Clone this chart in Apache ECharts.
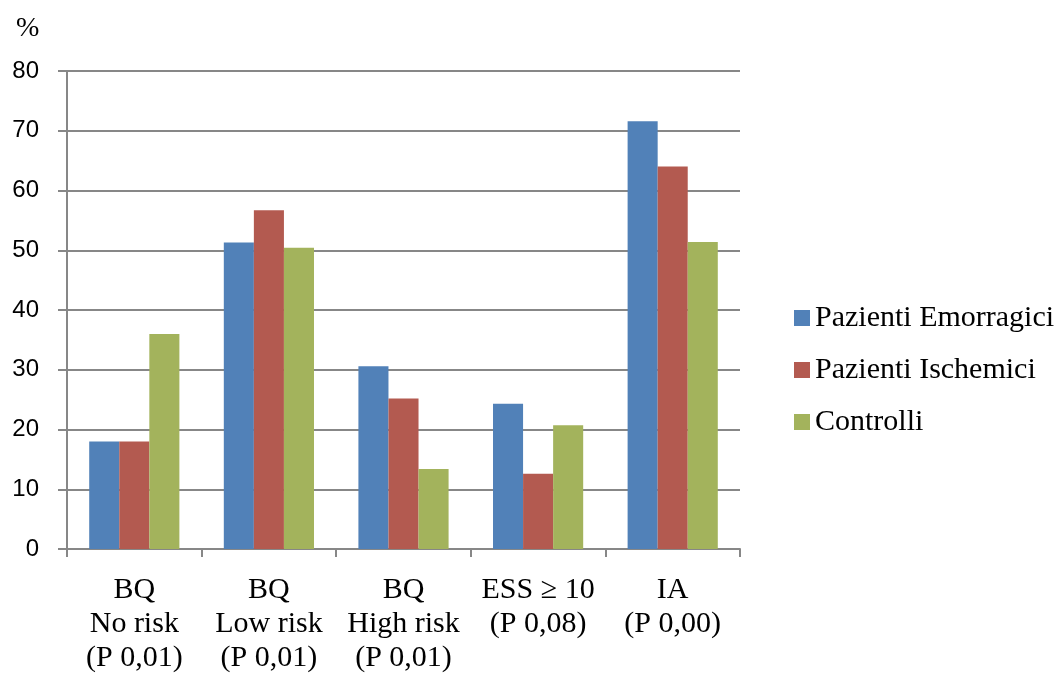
<!DOCTYPE html>
<html>
<head>
<meta charset="utf-8">
<script src="https://cdn.jsdelivr.net/npm/echarts@6/dist/echarts.min.js"></script>
<style>
  html, body { margin: 0; padding: 0; background: #fff; overflow: hidden; }
  #chart { width: 1058px; height: 675px; }
</style>
</head>
<body>
<div id="chart"></div>
<script>
// Categories (multi-line axis labels)
const categories = [
  'BQ\nNo risk\n(P 0,01)',
  'BQ\nLow risk\n(P 0,01)',
  'BQ\nHigh risk\n(P 0,01)',
  'ESS \u2265 10\n(P 0,08)',
  'IA\n(P 0,00)'
];

// Percentages per group
const emorragici = [18.0, 51.3, 30.6, 24.3, 71.6];
const ischemici  = [18.0, 56.7, 25.2, 12.6, 64.0];
const controlli  = [36.0, 50.4, 13.4, 20.7, 51.4];

const seriesNames = ['Pazienti Emorragici', 'Pazienti Ischemici', 'Controlli'];
const yTicks = { min: 0, max: 80, interval: 10 };

const chart = echarts.init(document.getElementById('chart'));

const serif = '"Liberation Serif", "Times New Roman", serif';
const sans = '"Liberation Sans", Arial, sans-serif';
const gridColor = '#878787';

chart.setOption({
  animation: false,
  backgroundColor: '#ffffff',
  color: ['#5181b8', '#b35a50', '#a3b35c'],
  title: {
    text: '%',
    left: 11,
    top: 10,
    textStyle: { fontFamily: serif, fontSize: 28, fontWeight: 'normal', color: '#000' }
  },
  legend: {
    orient: 'vertical',
    left: 789,
    top: 298,
    itemWidth: 16,
    itemHeight: 16,
    itemGap: 22,
    icon: 'rect',
    data: seriesNames,
    textStyle: { fontFamily: serif, fontSize: 30, color: '#000', lineHeight: 30, padding: [0, 0, 0, 0] }
  },
  grid: { left: 67, right: 318, top: 71, bottom: 124, containLabel: false },
  xAxis: {
    type: 'category',
    data: categories,
    axisLine: { lineStyle: { color: gridColor, width: 2 } },
    axisTick: { show: true, length: 8, alignWithLabel: false, lineStyle: { color: gridColor, width: 2 } },
    axisLabel: {
      interval: 0,
      margin: 24,
      fontFamily: serif,
      fontSize: 30,
      lineHeight: 34,
      color: '#000'
    }
  },
  yAxis: {
    type: 'value',
    min: yTicks.min,
    max: yTicks.max,
    interval: yTicks.interval,
    axisLine: { show: true, lineStyle: { color: gridColor, width: 2 } },
    axisTick: { show: true, length: 9, lineStyle: { color: gridColor, width: 2 } },
    splitLine: { show: true, lineStyle: { color: gridColor, width: 2 } },
    axisLabel: { margin: 28, fontFamily: sans, fontSize: 24, color: '#000' }
  },
  series: [
    { name: seriesNames[0], type: 'bar', data: emorragici, barGap: '0%', barCategoryGap: '33%' },
    { name: seriesNames[1], type: 'bar', data: ischemici,  barGap: '0%', barCategoryGap: '33%' },
    { name: seriesNames[2], type: 'bar', data: controlli,  barGap: '0%', barCategoryGap: '33%' }
  ]
});
</script>
</body>
</html>
